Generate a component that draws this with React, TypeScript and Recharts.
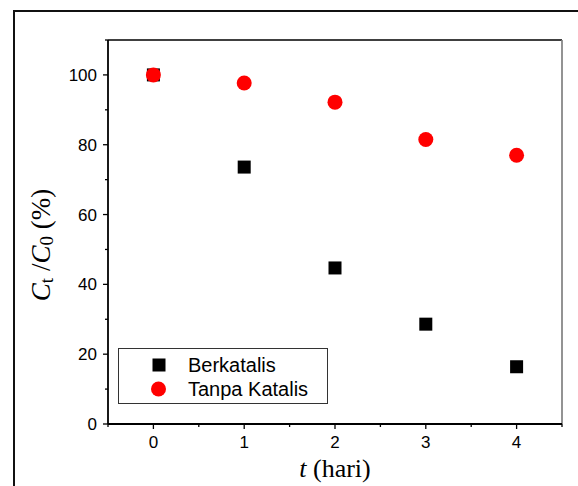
import React from "react";
import { ScatterChart, Scatter, XAxis, YAxis, ReferenceLine } from "recharts";

const days = [0, 1, 2, 3, 4];
const berkatalis = [100, 73.6, 44.7, 28.6, 16.4];
const tanpaKatalis = [100, 97.7, 92.2, 81.5, 77.0];
const seriesNames = ["Berkatalis", "Tanpa Katalis"];
const xTicks = [-0.5, 0, 0.5, 1, 1.5, 2, 2.5, 3, 3.5, 4, 4.5];
const yTicks = [0, 10, 20, 30, 40, 50, 60, 70, 80, 90, 100, 110];

const dataB = days.map((d, i) => ({ x: d, y: berkatalis[i] }));
const dataT = days.map((d, i) => ({ x: d, y: tanpaKatalis[i] }));

const SANS = "'Liberation Sans', Arial, sans-serif";
const SERIF = "'Liberation Serif', 'Times New Roman', serif";

const XTick = (props: any) => {
  const { x, y, payload } = props;
  const v = payload.value;
  const major = Math.abs(v - Math.round(v)) < 1e-6;
  return (
    <g>
      <line x1={x} x2={x} y1={y} y2={y + (major ? 5 : 3)} stroke="#000" strokeWidth={1.3} />
      {major && (
        <text x={x} y={y + 24} textAnchor="middle" fontFamily={SANS} fontSize={17} fill="#000">
          {v}
        </text>
      )}
    </g>
  );
};

const YTick = (props: any) => {
  const { x, y, payload } = props;
  const v = payload.value;
  const major = v % 20 === 0;
  return (
    <g>
      <line x1={x} x2={x - (major ? 5 : 3)} y1={y} y2={y} stroke="#000" strokeWidth={1.3} />
      {major && (
        <text x={x - 11} y={y + 6} textAnchor="end" fontFamily={SANS} fontSize={17} fill="#000">
          {v}
        </text>
      )}
    </g>
  );
};

const YLabel = () => {
  const cx = 50;
  const cy = 245;
  return (
    <text
      x={cx}
      y={cy}
      transform={`rotate(-90, ${cx}, ${cy})`}
      textAnchor="middle"
      fontFamily={SERIF}
      fontSize={27}
      fill="#000"
    >
      <tspan fontStyle="italic">C</tspan>
      <tspan fontSize={19} dy={3}>t</tspan>
      <tspan dy={-3}> /</tspan>
      <tspan fontStyle="italic">C</tspan>
      <tspan fontSize={19} dy={3}>0</tspan>
      <tspan dy={-3}> (%)</tspan>
    </text>
  );
};

const XLabel = () => (
  <text x={335} y={477} textAnchor="middle" fontFamily={SERIF} fontSize={26} fill="#000">
    <tspan fontStyle="italic">t</tspan>
    <tspan> (hari)</tspan>
  </text>
);

const Square = (props: any) => {
  const { cx, cy } = props;
  return <rect x={cx - 6.5} y={cy - 6.5} width={13} height={13} fill="#000" />;
};

const Dot = (props: any) => {
  const { cx, cy } = props;
  return <circle cx={cx} cy={cy} r={7.5} fill="#ff0000" />;
};

export default function App() {
  return (
    <div style={{ position: "absolute", left: 0, top: 0, width: 578, height: 486, background: "#fff", overflow: "hidden" }}>
      <div
        style={{
          position: "absolute",
          left: 13,
          top: 10,
          width: 700,
          height: 700,
          borderLeft: "2px solid #111",
          borderTop: "2px solid #111",
        }}
      />
      <ScatterChart
        width={578}
        height={486}
        margin={{ top: 40, right: 16, bottom: 32, left: 48 }}
        style={{ position: "absolute", left: 0, top: 0 }}
      >
        <XAxis
          type="number"
          dataKey="x"
          domain={[-0.5, 4.5]}
          ticks={xTicks}
          interval={0}
          tickSize={0}
          tickMargin={0}
          tickLine={false}
          tick={<XTick />}
          height={30}
          stroke="#000"
          strokeWidth={1.8}
          allowDataOverflow
          label={<XLabel />}
        />
        <YAxis
          type="number"
          dataKey="y"
          domain={[0, 110]}
          ticks={yTicks}
          interval={0}
          tickSize={0}
          tickMargin={0}
          tickLine={false}
          tick={<YTick />}
          width={60}
          stroke="#000"
          strokeWidth={1.8}
          allowDataOverflow
          label={<YLabel />}
        />
        <ReferenceLine y={110} stroke="#000" strokeWidth={1.3} />
        <ReferenceLine x={4.5} stroke="#808080" strokeWidth={1.7} />
        <Scatter name={seriesNames[0]} data={dataB} shape={<Square />} isAnimationActive={false} />
        <Scatter name={seriesNames[1]} data={dataT} shape={<Dot />} isAnimationActive={false} />
      </ScatterChart>
      <div
        style={{
          position: "absolute",
          left: 118,
          top: 348,
          width: 208,
          height: 54,
          border: "1px solid #333",
          background: "#fff",
          fontFamily: SANS,
          fontSize: 20,
          color: "#000",
        }}
      >
        {seriesNames.map((n, i) => (
          <div key={n} style={{ position: "absolute", left: 0, top: i === 0 ? 4 : 28, height: 24, width: 208 }}>
            <svg width={30} height={24} style={{ position: "absolute", left: 25, top: 0 }}>
              {i === 0 ? (
                <rect x={8.5} y={5.5} width={13} height={13} fill="#000" />
              ) : (
                <circle cx={14.5} cy={12} r={7.5} fill="#ff0000" />
              )}
            </svg>
            <span style={{ position: "absolute", left: 69, top: 0, lineHeight: "24px", whiteSpace: "nowrap" }}>{n}</span>
          </div>
        ))}
      </div>
    </div>
  );
}
